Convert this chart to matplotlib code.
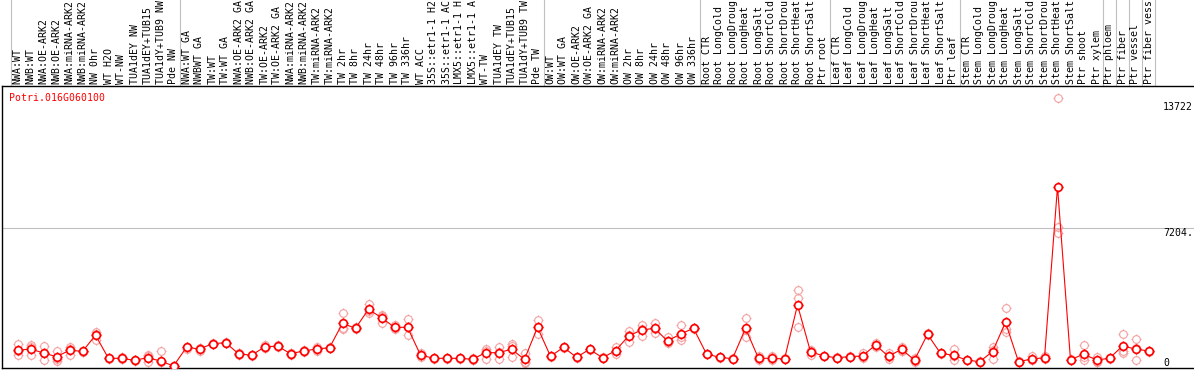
import matplotlib
matplotlib.use("Agg")
import matplotlib.pyplot as plt
from matplotlib.path import Path
from matplotlib.lines import Line2D
from matplotlib.transforms import blended_transform_factory
import numpy as np

gene = "Potri.016G060100"

samples = [
    "NWA:WT", "NWB:WT", "NWA:OE-ARK2", "NWB:OE-ARK2", "NWA:miRNA-ARK2", "NWB:miRNA-ARK2",
    "NW 0hr", "WT H2O", "WT-NW", "TUA1dEY NW", "TUA1dEY+TUB15 NW", "TUA1dY+TUB9 NW", "Pde NW",
    "NWA:WT GA", "NWBWT GA", "TW:WT", "TW:WT GA", "NWA:OE-ARK2 GA", "NWB:OE-ARK2 GA",
    "TW:OE-ARK2", "TW:OE-ARK2 GA", "NWA:miRNA-ARK2", "NWB:miRNA-ARK2", "TW:miRNA-ARK2",
    "TW:miRNA-ARK2", "TW 2hr", "TW 8hr", "TW 24hr", "TW 48hr", "TW 96hr", "TW 336hr", "WT ACC",
    "35S::etr1-1 H2O", "35S::etr1-1 ACC", "LMX5::etr1-1 H2O", "LMX5::etr1-1 ACC", "WT-TW",
    "TUA1dEY TW", "TUA1dEY+TUB15 TW", "TUA1dY+TUB9 TW", "Pde TW",
    "OW:WT", "OW:WT GA", "OW:OE-ARK2", "OW:OE-ARK2 GA", "OW:miRNA-ARK2", "OW:miRNA-ARK2",
    "OW 2hr", "OW 8hr", "OW 24hr", "OW 48hr", "OW 96hr", "OW 336hr",
    "Root CTR", "Root LongCold", "Root LongDrought", "Root LongHeat", "Root LongSalt",
    "Root ShortCold", "Root ShortDrought", "Root ShortHeat", "Root ShortSalt", "Ptr root",
    "Leaf CTR", "Leaf LongCold", "Leaf LongDrought", "Leaf LongHeat", "Leaf LongSalt",
    "Leaf ShortCold", "Leaf ShortDrought", "Leaf ShortHeat", "Leaf ShortSalt", "Ptr leaf",
    "Stem CTR", "Stem LongCold", "Stem LongDrought", "Stem LongHeat", "Stem LongSalt",
    "Stem ShortCold", "Stem ShortDrought", "Stem ShortHeat", "Stem ShortSalt", "Ptr shoot",
    "Ptr xylem", "Ptr phloem", "Ptr fiber", "Ptr vessel", "Ptr fiber vessel",
]
group_sizes = [13, 28, 12, 10, 10, 11, 1, 1, 1, 1]

means = [
    913, 980, 774, 583, 913, 861, 1686, 500, 500, 397, 531, 361, 103,
    1067, 980, 1253, 1305, 737, 655, 1083, 1135, 737, 877, 980, 1047, 2305, 2047,
    3027, 2594, 2099, 2099, 670, 500, 500, 500, 449, 789, 789, 964, 449, 2099,
    603, 1067, 552, 964, 531, 892, 1650, 1960, 2047, 1392, 1753, 2047,
    722, 552, 480, 2047, 500, 500, 464, 3249, 841, 619,
    531, 583, 619, 1186, 603, 964, 413, 1738, 758, 655,
    413, 325, 841, 2357, 325, 464, 531, 9350, 413, 722, 413,
    500, 1135, 980, 877,
]
reps = [
    [1222, 655, 860], [1171, 686, 1080], [1150, 397, 775], [892, 376, 480], [1098, 686, 955],
    [830, 900, 850], [1753, 1444, 1860], [480, 520, 500], [583, 449, 470], [380, 410, 400],
    [686, 309, 600], [877, 294, 330], [103, 90, 115],
    [1000, 1100, 1090], [877, 1050, 1010], [1253, 1220, 1290], [1305, 1290, 1320],
    [789, 655, 760], [655, 620, 690], [1186, 1016, 1050], [1135, 1100, 1170],
    [655, 760, 790], [877, 840, 910], [1098, 861, 980], [1047, 1010, 1080],
    [2821, 2011, 2080], [2047, 2000, 2090], [3316, 2821, 2950], [2718, 2336, 2700],
    [2233, 1996, 2070], [2527, 1686, 2090], [758, 583, 670], [500, 480, 520],
    [500, 480, 520], [500, 480, 520], [500, 430, 420], [980, 480, 900],
    [1067, 480, 820], [1238, 552, 1150], [789, 258, 300], [2454, 1753, 2100],
    [603, 580, 630], [1067, 1040, 1100], [552, 530, 570], [964, 940, 990],
    [531, 510, 550], [1098, 722, 860], [1924, 1341, 1680], [2233, 1650, 2000],
    [2336, 1789, 2000], [1583, 1274, 1330], [2217, 1444, 1600], [2047, 2020, 2080],
    [722, 700, 740], [552, 530, 570], [480, 460, 500], [2579, 1614, 1950],
    [619, 480, 410], [619, 480, 410], [464, 440, 490], [4022, 3594, 2099],
    [928, 670, 860], [619, 600, 640],
    [531, 510, 550], [583, 560, 600], [758, 560, 540], [1305, 1150, 1100],
    [789, 560, 480], [1098, 900, 880], [531, 380, 330], [1738, 1700, 1780],
    [758, 730, 790], [980, 413, 600],
    [413, 390, 430], [325, 300, 350], [1098, 480, 950], [3079, 1872, 2011],
    [325, 300, 350], [619, 430, 410], [619, 500, 470], [13909, 7287, 6946],
    [413, 390, 440], [1186, 413, 570], [583, 330, 330],
    [500, 480, 520], [1753, 758, 900], [1480, 413, 1050], [877, 850, 900],
]
ytick_vals = [0, 7204, 13722]
ytick_text = ["0", "7204.", "13722"]

RED = "#ff0000"
PINK = "#f4a0a0"
GRID = "#c0c0c0"
MONO = "DejaVu Sans Mono"
FS = 7.1
MAXCH = 14   # the original header only has room for 14 characters

# circle with four little ticks sticking out, like the original markers
ticks = Path([(0, 1), (0, 1.3), (0, -1), (0, -1.3), (1, 0), (1.3, 0), (-1, 0), (-1.3, 0)],
             [Path.MOVETO, Path.LINETO] * 4)
marker = Path.make_compound_path(Path.unit_circle(), ticks)

W, H = 1194, 370
fig = plt.figure(figsize=(W / 100, H / 100), dpi=100)
fig.patch.set_facecolor("white")
ax = fig.add_axes([1.5 / W, 2 / H, 1 - 1.5 / W, (368 - 86) / H])

x = np.arange(len(samples))
rep_arr = np.array(reps)

# column geometry: 13 px per column, first column starts 11 px from the left
ax.set_xlim((1.5 - 17.5) / 13, (W - 17.5) / 13)
ax.set_ylim(0, 282 * 51.57)

for j in range(rep_arr.shape[1]):
    ax.plot(x, rep_arr[:, j], ls="none", marker=marker, ms=7.2, mec=PINK,
            mfc="none", mew=0.8, zorder=2)
ax.plot(x, means, "-", color=RED, lw=0.8, zorder=3)
ax.plot(x, means, ls="none", marker=marker, ms=7.2, mec=RED, mfc="white",
        mew=1.2, zorder=4)

ax.axhline(ytick_vals[1], color=GRID, lw=0.8, zorder=1)

# group separators run all the way up through the label area
bounds = np.cumsum([0] + group_sizes) - 0.5
sep_tr = blended_transform_factory(ax.transData, fig.transFigure)
for b in bounds:
    fig.add_artist(Line2D([b, b], [2 / H, 1], transform=sep_tr, color=GRID, lw=0.8, zorder=0))

lab_tr = blended_transform_factory(ax.transData, ax.transAxes)
for i, s in enumerate(samples):
    ax.text(i, 1 + 2 / 282, s[:MAXCH].rstrip(), transform=lab_tr, rotation=90,
            ha="center", va="bottom", fontfamily=MONO, fontsize=FS, color="black",
            clip_on=False)

xr = len(samples) + 0.12
ax.text(xr, ytick_vals[2], ytick_text[2], ha="left", va="top", fontfamily=MONO, fontsize=FS)
ax.text(xr, ytick_vals[1], ytick_text[1], ha="left", va="top", fontfamily=MONO, fontsize=FS)
ax.text(xr, ytick_vals[0], ytick_text[0], ha="left", va="bottom", fontfamily=MONO, fontsize=FS)

fig.text(9 / W, 1 - 98 / H, gene, color=RED, ha="left", va="center",
         fontfamily=MONO, fontsize=FS)

for side in ["top", "left", "bottom"]:
    ax.spines[side].set_linewidth(1.0)
    ax.spines[side].set_color("black")
ax.spines["right"].set_visible(False)
ax.set_xticks([])
ax.set_yticks([])

fig.savefig("out.png", dpi=100)
